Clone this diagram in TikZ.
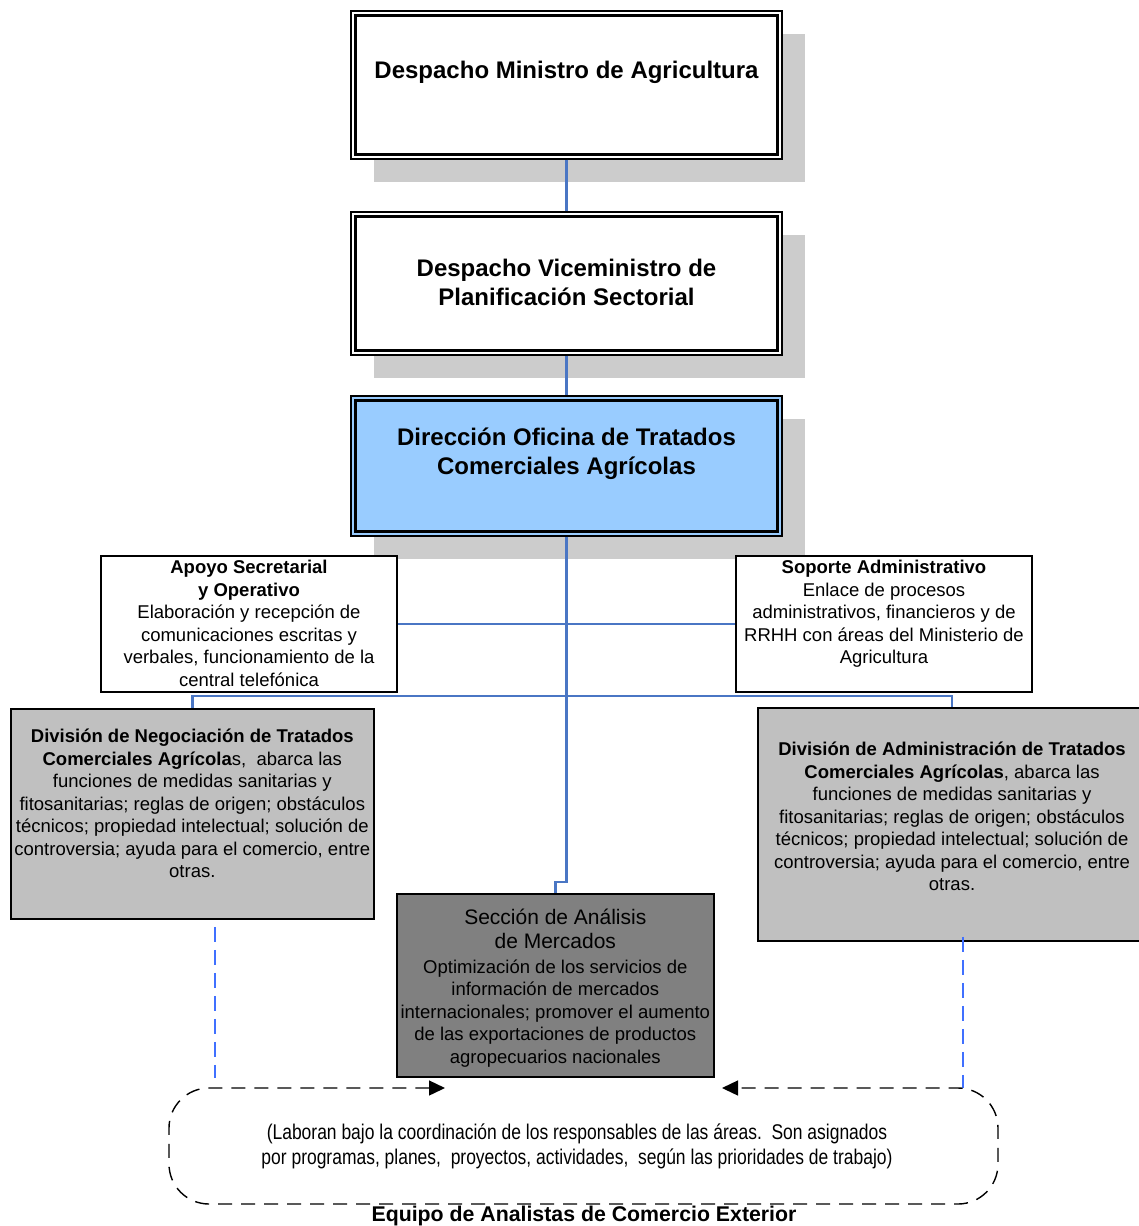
\documentclass[tikz,border=0pt]{standalone}
\usepackage{fontspec}
\setmainfont{Liberation Sans}
\newfontfamily\narrowfam[FakeStretch=0.82]{Liberation Sans}
\usetikzlibrary{arrows.meta,shadows}
\definecolor{shadowgray}{HTML}{CCCCCC}
\definecolor{lightblue}{HTML}{99CCFF}
\definecolor{divgray}{HTML}{C0C0C0}
\definecolor{secgray}{HTML}{808080}
\definecolor{connblue}{HTML}{4A76C4}
\definecolor{dashblue}{HTML}{4070FF}
\newcommand\mytitle{\fontsize{24}{29}\selectfont\bfseries}
\newcommand\mybody{\fontsize{18.5}{22.5}\selectfont}
\newcommand\mysec{\fontsize{21}{24.5}\selectfont}
\newcommand\boxcontent[4]{\begin{minipage}[c][#2][t]{#1}\centering\leftskip=-20pt plus 1fil\rightskip=-20pt plus 1fil\parfillskip=0pt\parindent=0pt\vspace*{#3}#4\par\end{minipage}}
\tikzset{
  mainbox/.style={draw, line width=1.4pt, fill=white, inner sep=0pt,
    general shadow={fill=shadowgray, shadow xshift=23pt, shadow yshift=-23pt}},
  innerframe/.style={line width=2.6pt},
  plainbox/.style={draw, line width=1.6pt, fill=white, inner sep=0pt},
  conn/.style={draw=connblue, line width=2.4pt},
  bluedash/.style={draw=dashblue, line width=1.4pt, dash pattern=on 15pt off 8pt},
  teamline/.style={draw=black, line width=1.4pt, dash pattern=on 14pt off 9pt, rounded corners=40pt},
}
\begin{document}
\begin{tikzpicture}[x=1pt,y=-1pt]
\useasboundingbox (0,0) rectangle (1138,1226);

% top boxes
\node[mainbox] (b1) at (566.5,85) {\boxcontent{431pt}{148pt}{46.8pt}{\mytitle\strut Despacho Ministro de Agricultura}};
\draw[innerframe] ([shift={(5pt,-5pt)}]b1.north west) rectangle ([shift={(-5pt,5pt)}]b1.south east);

\node[mainbox] (b2) at (566.5,283.5) {\boxcontent{431pt}{143pt}{44.3pt}{\mytitle\strut Despacho Viceministro de\\ Planificación Sectorial}};
\draw[innerframe] ([shift={(5pt,-5pt)}]b2.north west) rectangle ([shift={(-5pt,5pt)}]b2.south east);

\node[mainbox, fill=lightblue] (b3) at (566.5,466) {\boxcontent{431pt}{140pt}{28.8pt}{\mytitle\strut Dirección Oficina de Tratados\\ Comerciales Agrícolas}};
\draw[innerframe] ([shift={(5pt,-5pt)}]b3.north west) rectangle ([shift={(-5pt,5pt)}]b3.south east);

% support boxes
\node[plainbox] (apoyo) at (249,624) {\boxcontent{296pt}{136pt}{1.9pt}{\mybody\strut\textbf{Apoyo Secretarial}\\ \textbf{y Operativo}\\ Elaboración y recepción de\\ comunicaciones escritas y\\ verbales, funcionamiento de la\\ central telefónica}};

\node[plainbox] (soporte) at (884,624) {\boxcontent{296pt}{136pt}{1.9pt}{\mybody\strut\textbf{Soporte Administrativo}\\ Enlace de procesos\\ administrativos, financieros y de\\ RRHH con áreas del Ministerio de\\ Agricultura}};

% divisions
\node[plainbox, fill=divgray] (divneg) at (192.3,814) {\boxcontent{363pt}{210pt}{17.9pt}{\mybody\strut\textbf{División de Negociación de Tratados}\\ \textbf{Comerciales Agrícola}s,\ \ abarca las\\ funciones de medidas sanitarias y\\ fitosanitarias; reglas de origen; obstáculos\\ técnicos; propiedad intelectual; solución de\\ controversia; ayuda para el comercio, entre\\ otras.}};

\node[plainbox, fill=divgray] (divadm) at (952,824.5) {\boxcontent{388pt}{233pt}{31.9pt}{\mybody\strut\textbf{División de Administración de Tratados}\\ \textbf{Comerciales Agrícolas}, abarca las\\ funciones de medidas sanitarias y\\ fitosanitarias; reglas de origen; obstáculos\\ técnicos; propiedad intelectual; solución de\\ controversia; ayuda para el comercio, entre\\ otras.}};

\node[plainbox, fill=secgray] (sec) at (555.3,985.5) {\boxcontent{317pt}{183pt}{12.85pt}{{\mysec\strut Sección de Análisis\\ de Mercados\par}\vspace{2pt}{\mybody Optimización de los servicios de\\ información de mercados\\ internacionales; promover el aumento\\ de las exportaciones de productos\\ agropecuarios nacionales\par}}};

% connectors
\draw[conn] (b1.south) -- (b2.north);
\draw[conn] (b2.south) -- (b3.north);
\draw[conn] (b3.south) |- ([yshift=11pt]sec.north) -- (sec.north);
\draw[conn] (apoyo.east) -- (soporte.west);
\draw[conn] (divneg.north) -- ++(0,-12) -| (divadm.north);

% team area
\coordinate (lend) at (215,1078);
\coordinate (rend) at (963,1088);
\coordinate (arrL) at (445,1088);
\coordinate (arrR) at (722,1088);
\draw[bluedash] ([xshift=22.7pt,yshift=-7pt]divneg.south) -- (lend);
\draw[bluedash] ([xshift=11pt,yshift=5pt]divadm.south) -- (rend);
\draw[teamline, {Triangle[length=16pt,width=15pt]}-{Triangle[length=16pt,width=15pt]}]
  (arrL) -- (169,1088) -- (169,1204) -- (998,1204) -- (998,1088) -- (arrR);

\node[font=\narrowfam\fontsize{21.3}{24.5}\selectfont, align=center, inner sep=0pt] (teamtxt) at (577,1146.5)
  {(Laboran bajo la coordinación de los responsables de las áreas.\ \ Son asignados\\ por programas, planes,\ \ proyectos, actividades,\ \ según las prioridades de trabajo)};
\node[font=\bfseries\fontsize{21.3}{25}\selectfont, anchor=base, inner sep=0pt] (team) at (584,1221) {Equipo de Analistas de Comercio Exterior};
\end{tikzpicture}
\end{document}
